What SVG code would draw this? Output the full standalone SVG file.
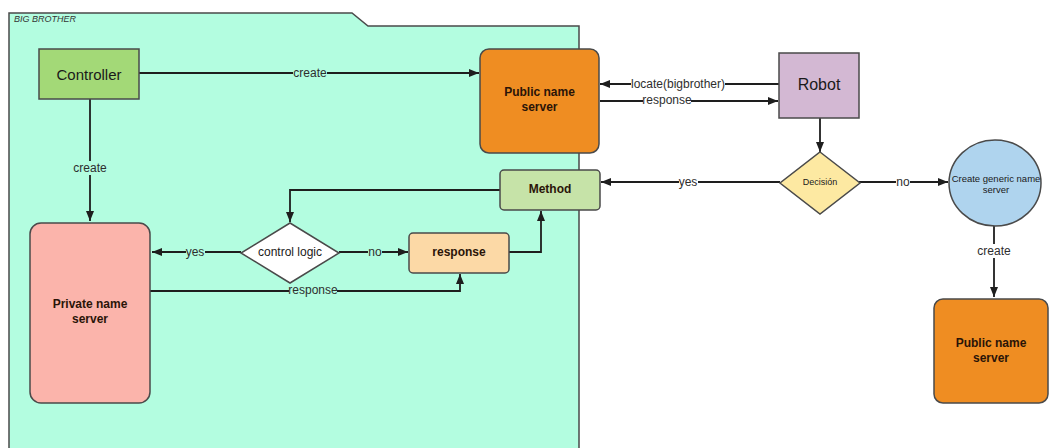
<svg xmlns="http://www.w3.org/2000/svg" width="1050" height="448" viewBox="0 0 1050 448">
<style>
.node{stroke:#4a4a4a;stroke-width:1.5}
.t{font-family:"Liberation Sans",Arial,sans-serif;fill:#1a1a1a;text-anchor:middle;dominant-baseline:central}
.b{font-weight:bold;font-size:12px;fill:#2a1408}
.lbl{font-family:"Liberation Sans",Arial,sans-serif;font-size:12px;fill:#2e2e2e;text-anchor:middle;dominant-baseline:central}
.conn{fill:none;stroke:#1e1e1e;stroke-width:1.8;marker-end:url(#arr)}
.bgi{fill:#b3fde0}
.bgo{fill:#ffffff}
</style>
<defs>
<marker id="arr" viewBox="0 0 10 8" refX="10" refY="4" markerWidth="10" markerHeight="8" markerUnits="userSpaceOnUse" orient="auto">
<path d="M0,0 L10,4 L0,8 z" fill="#1e1e1e"/>
</marker>
</defs>
<rect width="1050" height="448" fill="#ffffff"/>
<g id="frame">
<path d="M9,449 V13 H352 L368,26 H579 V449" fill="#b3fde0" stroke="#4a4a4a" stroke-width="1.5"/>
<text x="14" y="18.5" font-family="Liberation Sans,Arial,sans-serif" font-size="9" font-style="italic" fill="#333" dominant-baseline="central">BIG BROTHER</text>
</g>
<g id="connectors">
<path class="conn" d="M139,73 H479"/>
<path class="conn" d="M90,99 V221"/>
<path class="conn" d="M779,84 H600"/>
<path class="conn" d="M600,101 H778"/>
<path class="conn" d="M820,118 V152"/>
<path class="conn" d="M780,182 H601"/>
<path class="conn" d="M859,182 H948"/>
<path class="conn" d="M994,226 V297"/>
<path class="conn" d="M500,190 H290 V222"/>
<path class="conn" d="M241,252 H152"/>
<path class="conn" d="M339,252 H408"/>
<path class="conn" d="M509,252 H541 V211"/>
<path class="conn" d="M150,291 H460 V274"/>
<rect class="bgi" x="293" y="66" width="34" height="14"/>
<text class="lbl" x="310" y="73">create</text>
<rect class="bgi" x="72" y="161" width="36" height="14"/>
<text class="lbl" x="90" y="168">create</text>
<rect class="bgo" x="631" y="77" width="94" height="14"/>
<text class="lbl" x="678" y="84">locate(bigbrother)</text>
<rect class="bgo" x="643" y="94" width="48" height="13"/>
<text class="lbl" x="667" y="100">response</text>
<rect class="bgo" x="679" y="175" width="19" height="14"/>
<text class="lbl" x="688" y="182">yes</text>
<rect class="bgo" x="896" y="175" width="14" height="14"/>
<text class="lbl" x="903" y="182">no</text>
<rect class="bgo" x="976" y="244" width="36" height="14"/>
<text class="lbl" x="994" y="251">create</text>
<rect class="bgi" x="186" y="245" width="19" height="14"/>
<text class="lbl" x="195" y="252">yes</text>
<rect class="bgi" x="368" y="245" width="14" height="14"/>
<text class="lbl" x="375" y="252">no</text>
<rect class="bgi" x="289" y="284" width="48" height="14"/>
<text class="lbl" x="313" y="290">response</text>
</g>
<g id="controller">
<rect class="node" x="39" y="49" width="100" height="50" fill="#a3d977"/>
<text class="t" x="89" y="74" font-size="15">Controller</text>
</g>
<g id="public-name-server">
<rect class="node" x="480" y="49" width="119" height="104" rx="9" fill="#ef8d22"/>
<text class="t b" x="539.5" y="92">Public name</text>
<text class="t b" x="539.5" y="107">server</text>
</g>
<g id="robot">
<rect class="node" x="779" y="53" width="80" height="65" fill="#d3b8d3"/>
<text class="t" x="819" y="84" font-size="16">Robot</text>
</g>
<g id="method">
<rect class="node" x="500" y="170" width="100" height="40" rx="4" fill="#c6e3a8"/>
<text class="t b" x="550" y="189">Method</text>
</g>
<g id="control-logic">
<polygon class="node" points="290,223 339,253 290,283 241,253" fill="#ffffff"/>
<text class="t" x="290" y="252" font-size="12">control logic</text>
</g>
<g id="response">
<rect class="node" x="409" y="233" width="100" height="40" rx="4" fill="#fcd9a6"/>
<text class="t b" x="459" y="252">response</text>
</g>
<g id="private-name-server">
<rect class="node" x="30" y="223" width="120" height="180" rx="11" fill="#fbb4ab"/>
<text class="t b" x="90" y="304">Private name</text>
<text class="t b" x="90" y="319">server</text>
</g>
<g id="decision">
<polygon class="node" points="820,152 860,183 820,214 780,183" fill="#fde9a2"/>
<text class="t" x="820" y="182" font-size="9">Decisión</text>
</g>
<g id="create-generic">
<ellipse class="node" cx="995" cy="183" rx="46" ry="43" fill="#afd4ee"/>
<text class="t" x="996" y="178" font-size="9.5" fill="#1e2a35">Create generic name</text>
<text class="t" x="996" y="189" font-size="9.5" fill="#1e2a35">server</text>
</g>
<g id="public-name-server-2">
<rect class="node" x="934" y="299" width="114" height="104" rx="9" fill="#ef8d22"/>
<text class="t b" x="991" y="343">Public name</text>
<text class="t b" x="991" y="358">server</text>
</g>
</svg>
